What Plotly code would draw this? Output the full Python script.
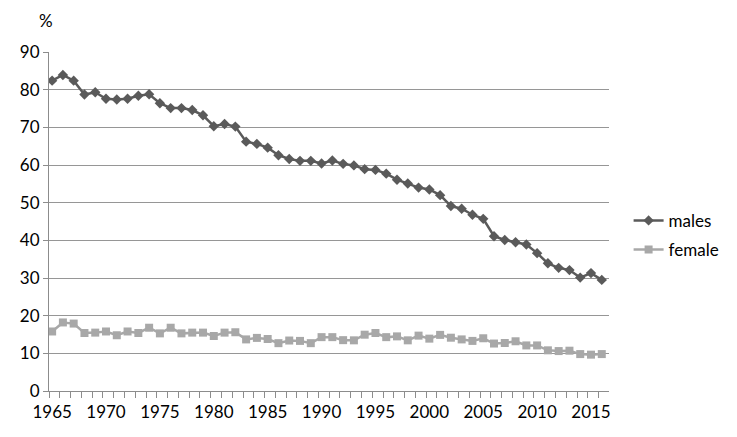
import plotly.graph_objects as go

years = list(range(1965, 2017))
males = [82.4, 83.9, 82.4, 78.7, 79.3, 77.6, 77.4, 77.6, 78.4, 78.8,
         76.4, 75.1, 75.1, 74.6, 73.2, 70.3, 70.9, 70.2, 66.2, 65.6,
         64.6, 62.6, 61.6, 61.1, 61.1, 60.4, 61.2, 60.3, 59.9, 58.9,
         58.7, 57.7, 56.1, 55.1, 54.0, 53.5, 52.0, 49.1, 48.4, 46.8,
         45.7, 41.1, 40.1, 39.5, 38.9, 36.6, 33.9, 32.7, 32.1, 30.1,
         31.3, 29.5]
female = [15.8, 18.2, 17.9, 15.4, 15.5, 15.8, 14.8, 15.8, 15.4, 16.8,
          15.3, 16.8, 15.3, 15.5, 15.5, 14.6, 15.5, 15.6, 13.7, 14.1,
          13.8, 12.7, 13.4, 13.3, 12.7, 14.3, 14.3, 13.5, 13.45, 14.95,
          15.4, 14.3, 14.5, 13.45, 14.7, 13.9, 14.9, 14.15, 13.7, 13.3,
          14.0, 12.6, 12.75, 13.2, 12.1, 12.1, 10.8, 10.6, 10.7, 9.8,
          9.65, 9.8]
tick_years = [1965, 1970, 1975, 1980, 1985, 1990, 1995, 2000, 2005, 2010, 2015]

FONT = "Lato, sans-serif"

fig = go.Figure()
fig.add_trace(go.Scatter(
    x=years, y=males, name="males", mode="lines+markers", legendgroup="m",
    line=dict(color="#5a5a5a", width=2.5),
    marker=dict(symbol="diamond", size=8, color="#5a5a5a"),
))
fig.add_trace(go.Scatter(
    x=years, y=female, name="female", mode="lines+markers", legendgroup="f",
    line=dict(color="#a8a8a8", width=2.5),
    marker=dict(symbol="square", size=8, color="#a8a8a8"),
))

fig.update_layout(
    width=729, height=429,
    margin=dict(l=39, r=128, t=44, b=46),
    paper_bgcolor="white", plot_bgcolor="white",
    font=dict(family=FONT, size=17, color="#000000"),
    legend=dict(x=1.035, y=0.555, xanchor="left", yanchor="top",
                font=dict(size=17), itemwidth=30, tracegroupgap=4,
                bgcolor="rgba(0,0,0,0)"),
    annotations=[dict(text="%", xref="paper", yref="paper",
                      x=-0.005, y=1.094, xanchor="center", yanchor="middle",
                      showarrow=False, font=dict(size=17))],
)
fig.update_xaxes(
    range=[1964.71, 2016.67], tickvals=tick_years,
    ticktext=[str(y) for y in tick_years],
    showgrid=False, zeroline=False,
    showline=True, linecolor="#8c8c8c", linewidth=1,
    ticks="", ticklabelstandoff=6,
    minor=dict(tick0=1964.71, dtick=1, ticks="outside", ticklen=6,
               tickcolor="#8c8c8c", showgrid=False),
)
fig.update_yaxes(
    range=[0, 90], dtick=10,
    showgrid=True, gridcolor="#969696", gridwidth=1,
    zeroline=False, showline=True, linecolor="#8c8c8c", linewidth=1,
    ticks="outside", ticklen=5, tickcolor="#8c8c8c",
)

fig.write_html("out.html")
